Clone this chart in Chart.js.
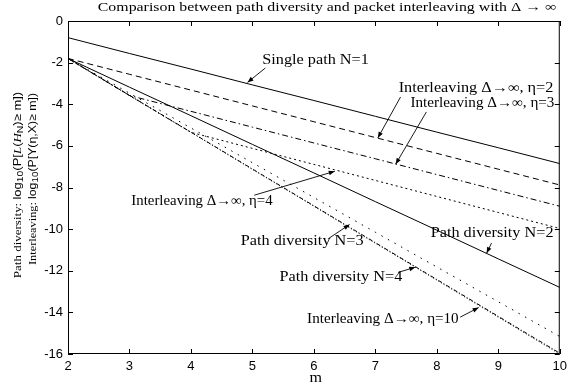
<!DOCTYPE html>
<html>
<head>
<meta charset="utf-8">
<script src="https://cdn.jsdelivr.net/npm/chart.js@4"></script>
<style>
  html, body { margin: 0; padding: 0; background: #fff; }
  #wrap { width: 572px; height: 391px; position: relative; }
</style>
</head>
<body>
<div id="wrap"><canvas id="c" width="572" height="391"></canvas></div>
<script>
// m values and log10 probabilities for each curve
const mValues = [2, 3, 4, 5, 6, 7, 8, 9, 10];
const singlePathN1 = [-0.80, -1.56, -2.31, -3.07, -3.82, -4.58, -5.34, -6.09, -6.85];
const interleaveEta2 = [-1.80, -2.56, -3.32, -4.08, -4.84, -5.60, -6.36, -7.12, -7.88];
const interleaveEta3 = [-1.80, -3.58, -4.34, -5.10, -5.86, -6.62, -7.38, -8.14, -8.90];
const interleaveEta4 = [-1.80, -3.58, -5.35, -6.12, -6.89, -7.66, -8.43, -9.20, -9.97];
const pathDivN2 = [-1.80, -3.18, -4.55, -5.93, -7.30, -8.68, -10.05, -11.43, -12.80];
const pathDivN3 = [-1.80, -3.47, -5.14, -6.81, -8.48, -10.15, -11.82, -13.49, -15.16];
const pathDivN4 = [-1.80, -3.58, -5.35, -7.13, -8.90, -10.68, -12.45, -14.23, -16.00];
const interleaveEta10 = [-1.80, -3.57, -5.34, -7.11, -8.88, -10.65, -12.42, -14.19, -15.96];

const xTicks = [2, 3, 4, 5, 6, 7, 8, 9, 10];
const yTicks = [0, -2, -4, -6, -8, -10, -12, -14, -16];

const titleText = 'Comparison between path diversity and packet interleaving with \u0394 \u2192 \u221e';
const xLabel = 'm';

// Curve labels: text anchor (left, middle) and arrow from -> to, in data units;
// sx is the horizontal stretch of the lettering
const labels = [
  { text: 'Single path N=1', at: [5.16, -1.88], from: [5.21, -2.26], to: [4.92, -2.95], sx: 1.16 },
  { text: 'Interleaving \u0394\u2192\u221e, \u03b7=2', at: [7.38, -3.22], from: [7.41, -3.65], to: [7.04, -5.62], sx: 1.16 },
  { text: 'Interleaving \u0394\u2192\u221e, \u03b7=3', at: [7.57, -3.94], from: [7.83, -4.37], to: [7.33, -6.88], sx: 1.08 },
  { text: 'Interleaving \u0394\u2192\u221e, \u03b7=4', at: [3.03, -8.66], from: [5.03, -8.37], to: [6.34, -7.22], sx: 1.06 },
  { text: 'Path diversity N=3', at: [4.81, -10.58], from: [6.24, -10.45], to: [6.58, -9.78], sx: 1.16 },
  { text: 'Path diversity N=2', at: [7.90, -10.19], from: [8.89, -10.67], to: [8.81, -11.16], sx: 1.16 },
  { text: 'Path diversity N=4', at: [5.44, -12.30], from: [7.37, -12.08], to: [7.65, -11.83], sx: 1.16 },
  { text: 'Interleaving \u0394\u2192\u221e, \u03b7=10', at: [5.89, -14.33], from: [8.38, -14.23], to: [8.68, -13.77], sx: 1.08 }
];

const SERIF = '"Liberation Serif", "Times New Roman", serif';
const SANS = '"Liberation Sans", Arial, Helvetica, sans-serif';

function pts(ys) { return mValues.map((m, i) => ({ x: m, y: ys[i] })); }

function series(label, ys, dash) {
  return {
    label: label,
    data: pts(ys),
    borderColor: '#000',
    borderWidth: 1,
    borderDash: dash,
    pointRadius: 0,
    fill: false,
    tension: 0
  };
}

// text drawn with a horizontal stretch factor (wide serif lettering)
function wideText(ctx, text, x, y, sx) {
  ctx.save();
  ctx.translate(x, y);
  ctx.scale(sx, 1);
  ctx.fillText(text, 0, 0);
  ctx.restore();
}

// Axis labels, title, inward ticks, box and curve annotations
const decorations = {
  id: 'decorations',
  afterDatasetsDraw(chart) {
    const ctx = chart.ctx;
    const xs = chart.scales.x, ys = chart.scales.y;
    const a = chart.chartArea;
    ctx.save();

    // box
    ctx.strokeStyle = '#000';
    ctx.lineWidth = 1;
    ctx.setLineDash([]);
    ctx.strokeRect(a.left + 0.5, a.top + 0.5, a.right - a.left - 1, a.bottom - a.top - 1);

    // inward ticks on all four sides
    const tl = 5;
    ctx.beginPath();
    xTicks.forEach(v => {
      const px = Math.round(xs.getPixelForValue(v)) + 0.5;
      ctx.moveTo(px, a.bottom); ctx.lineTo(px, a.bottom - tl);
      ctx.moveTo(px, a.top); ctx.lineTo(px, a.top + tl);
    });
    yTicks.forEach(v => {
      const py = Math.round(ys.getPixelForValue(v)) + 0.5;
      ctx.moveTo(a.left, py); ctx.lineTo(a.left + tl, py);
      ctx.moveTo(a.right, py); ctx.lineTo(a.right - tl, py);
    });
    ctx.stroke();

    // title
    ctx.fillStyle = '#000';
    ctx.font = '13px ' + SERIF;
    ctx.textAlign = 'center';
    ctx.textBaseline = 'middle';
    wideText(ctx, titleText, 327, 8, 1.22);

    // x label
    ctx.font = '14px ' + SERIF;
    wideText(ctx, xLabel, (a.left + a.right) / 2 + 2, 378, 1.15);

    // curve labels with arrows
    ctx.font = '14px ' + SERIF;
    ctx.textAlign = 'left';
    labels.forEach(l => {
      const tx = xs.getPixelForValue(l.at[0]);
      const ty = ys.getPixelForValue(l.at[1]);
      ctx.fillStyle = '#000';
      wideText(ctx, l.text, tx, ty, l.sx);
      const x1 = xs.getPixelForValue(l.from[0]), y1 = ys.getPixelForValue(l.from[1]);
      const x2 = xs.getPixelForValue(l.to[0]), y2 = ys.getPixelForValue(l.to[1]);
      ctx.lineWidth = 0.9;
      ctx.beginPath();
      ctx.moveTo(x1, y1); ctx.lineTo(x2, y2);
      ctx.stroke();
      const ang = Math.atan2(y2 - y1, x2 - x1);
      const hl = 6, hw = 2.3;
      ctx.beginPath();
      ctx.moveTo(x2, y2);
      ctx.lineTo(x2 - hl * Math.cos(ang) + hw * Math.sin(ang), y2 - hl * Math.sin(ang) - hw * Math.cos(ang));
      ctx.lineTo(x2 - hl * Math.cos(ang) - hw * Math.sin(ang), y2 - hl * Math.sin(ang) + hw * Math.cos(ang));
      ctx.closePath();
      ctx.fill();
    });

    // rotated y-axis label, two lines with subscripts
    const fs = 11;
    const line1 = [
      { t: 'Path diversity: ', f: SERIF },
      { t: 'log', f: SANS },
      { t: '10', f: SANS, sub: true },
      { t: '(P[', f: SANS },
      { t: 'L', f: SERIF, it: true },
      { t: '(', f: SANS },
      { t: 'H', f: SERIF, it: true },
      { t: 'N', f: SANS, sub: true },
      { t: ')\u2265 m])', f: SANS }
    ];
    const line2 = [
      { t: 'Interleaving: ', f: SERIF },
      { t: 'log', f: SANS },
      { t: '10', f: SANS, sub: true },
      { t: '(P[Y(\u03b7,X)\u2265 m])', f: SANS }
    ];
    function fontOf(s) {
      const size = s.sub ? fs * 0.8 : fs;
      return (s.it ? 'italic ' : '') + size + 'px ' + s.f;
    }
    function drawRotated(segs, cx, cy, sx) {
      ctx.save();
      ctx.translate(cx, cy);
      ctx.rotate(-Math.PI / 2);
      ctx.scale(sx, 1);
      ctx.textAlign = 'left';
      ctx.textBaseline = 'middle';
      let total = 0;
      segs.forEach(s => { ctx.font = fontOf(s); total += ctx.measureText(s.t).width; });
      let x = -total / 2;
      segs.forEach(s => {
        ctx.font = fontOf(s);
        ctx.fillText(s.t, x, s.sub ? 3 : 0);
        x += ctx.measureText(s.t).width;
      });
      ctx.restore();
    }
    ctx.fillStyle = '#000';
    drawRotated(line1, 18, 185, 1.18);
    drawRotated(line2, 33, 179, 1.12);

    ctx.restore();
  }
};

new Chart(document.getElementById('c'), {
  type: 'line',
  data: {
    datasets: [
      series('Single path N=1', singlePathN1, []),
      series('Interleaving eta=2', interleaveEta2, [6, 4]),
      series('Interleaving eta=3', interleaveEta3, [6, 3, 1.5, 3]),
      series('Interleaving eta=4', interleaveEta4, [2, 3]),
      series('Path diversity N=2', pathDivN2, []),
      series('Path diversity N=3', pathDivN3, [1.5, 6]),
      series('Path diversity N=4', pathDivN4, [1, 2]),
      series('Interleaving eta=10', interleaveEta10, [4, 2, 1, 2])
    ]
  },
  options: {
    responsive: false,
    animation: false,
    events: [],
    layout: { padding: { top: 21, right: 6, left: 0, bottom: 0 } },
    plugins: { legend: { display: false }, tooltip: { enabled: false }, title: { display: false } },
    scales: {
      x: {
        type: 'linear',
        min: 2, max: 10,
        afterFit(s) { s.height = 37; },
        afterBuildTicks(s) { s.ticks = xTicks.map(v => ({ value: v })); },
        grid: { display: false, drawTicks: false },
        border: { display: false },
        ticks: { color: '#000', font: { family: SANS, size: 13 }, padding: 5, maxRotation: 0, autoSkip: false }
      },
      y: {
        type: 'linear',
        min: -16, max: 0,
        afterFit(s) { s.width = 68; },
        afterBuildTicks(s) { s.ticks = yTicks.map(v => ({ value: v })); },
        grid: { display: false, drawTicks: false },
        border: { display: false },
        ticks: { color: '#000', font: { family: SANS, size: 13 }, padding: 5, autoSkip: false }
      }
    }
  },
  plugins: [decorations]
});
</script>
</body>
</html>
